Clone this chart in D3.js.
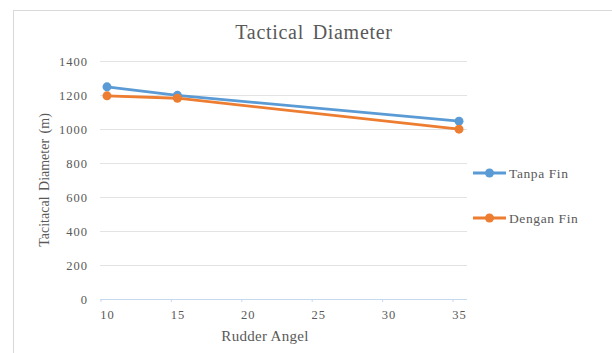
<!DOCTYPE html>
<html>
<head>
<meta charset="utf-8">
<script src="https://cdn.jsdelivr.net/npm/d3@7"></script>
<style>
  body { margin: 0; background: #fff; }
  svg { display: block; }
  text { font-family: "Liberation Serif", "Times New Roman", serif; fill: #595959; }
</style>
</head>
<body>
<svg id="chart" width="612" height="353"></svg>
<script>
// Rudder angle (deg) and tactical diameter (m) for each configuration
const rudderAngles = [10, 15, 35];
const tanpaFin = [1248, 1198, 1046];
const denganFin = [1195, 1181, 999];
const xTicks = [10, 15, 20, 25, 30, 35];
const yTicks = [0, 200, 400, 600, 800, 1000, 1200, 1400];
const seriesNames = ["Tanpa Fin", "Dengan Fin"];
const seriesColors = ["#5B9BD5", "#ED7D31"];

const series = [
  { name: seriesNames[0], color: seriesColors[0], values: tanpaFin },
  { name: seriesNames[1], color: seriesColors[1], values: denganFin }
];

const serif = "'Liberation Serif', 'Times New Roman', serif";
const svg = d3.select("#chart");

// chart area frame
svg.append("rect")
  .attr("x", 13.5).attr("y", 10.5)
  .attr("width", 640).attr("height", 360)
  .attr("fill", "#fff").attr("stroke", "#d9d9d9").attr("stroke-width", 1);

const x = d3.scaleLinear().domain([10, 35]).range([107, 459]);
const y = d3.scaleLinear().domain([0, 1400]).range([299, 61]);
const plotLeft = 100, plotRight = 467;

// horizontal gridlines
svg.append("g")
  .selectAll("line")
  .data(yTicks.filter(d => d > 0))
  .join("line")
  .attr("x1", plotLeft).attr("x2", plotRight)
  .attr("y1", d => y(d) + 0.5).attr("y2", d => y(d) + 0.5)
  .attr("stroke", "#e3e3e3").attr("stroke-width", 1);

// y axis labels
const yAxis = d3.axisLeft(y).tickValues(yTicks).tickFormat(d3.format("d"))
  .tickSize(0).tickPadding(0);
const yg = svg.append("g")
  .attr("transform", `translate(${plotLeft - 12},0)`)
  .call(yAxis)
  .attr("font-family", serif)
  .attr("font-size", 12.5);
yg.select(".domain").remove();
yg.selectAll("text").attr("letter-spacing", 1).attr("fill", "#595959");

// x axis baseline with small tick marks
svg.append("line")
  .attr("x1", plotLeft).attr("x2", plotRight)
  .attr("y1", y(0) + 0.5).attr("y2", y(0) + 0.5)
  .attr("stroke", "#c5d9f1").attr("stroke-width", 1);

const xAxis = d3.axisBottom(x).tickValues(xTicks).tickFormat(d3.format("d"))
  .tickSize(0).tickPadding(0);
const xg = svg.append("g")
  .attr("transform", `translate(0,${y(0)})`)
  .call(xAxis)
  .attr("font-family", serif)
  .attr("font-size", 12.5);
xg.select(".domain").remove();
xg.selectAll(".tick").append("line")
  .attr("x1", -6.5).attr("x2", -6.5).attr("y1", 0).attr("y2", 3)
  .attr("stroke", "#c5d9f1");
xg.selectAll("text")
  .attr("y", 11).attr("dy", "0.71em")
  .attr("letter-spacing", 1)
  .attr("fill", "#595959");

// series lines and markers
const line = d3.line()
  .x((d, i) => x(rudderAngles[i]))
  .y(d => y(d));

series.forEach(s => {
  svg.append("path")
    .datum(s.values)
    .attr("d", line)
    .attr("fill", "none")
    .attr("stroke", s.color)
    .attr("stroke-width", 2.8)
    .attr("stroke-linejoin", "round");
  svg.append("g")
    .selectAll("circle")
    .data(s.values)
    .join("circle")
    .attr("cx", (d, i) => x(rudderAngles[i]))
    .attr("cy", d => y(d))
    .attr("r", 4.5)
    .attr("fill", s.color);
});

// title
svg.append("text")
  .attr("x", 314).attr("y", 39)
  .attr("text-anchor", "middle")
  .attr("font-size", 20).attr("letter-spacing", 0.7)
  .attr("word-spacing", 3)
  .text("Tactical Diameter");

// axis titles
svg.append("text")
  .attr("transform", "translate(49,180) rotate(-90)")
  .attr("text-anchor", "middle")
  .attr("font-size", 14)
  .attr("word-spacing", 2)
  .text("Tacitacal Diameter (m)");

svg.append("text")
  .attr("x", 265).attr("y", 341)
  .attr("text-anchor", "middle")
  .attr("font-size", 15)
  .attr("letter-spacing", 0.3)
  .text("Rudder Angel");

// legend
const legend = svg.append("g");
series.forEach((s, i) => {
  const ly = 173 + i * 45;
  const g = legend.append("g").attr("transform", `translate(473,${ly})`);
  g.append("line").attr("x1", 0).attr("x2", 33).attr("y1", 0).attr("y2", 0)
    .attr("stroke", s.color).attr("stroke-width", 2.8);
  g.append("circle").attr("cx", 16.5).attr("cy", 0).attr("r", 4.5).attr("fill", s.color);
  g.append("text").attr("x", 36).attr("y", 0).attr("dy", "0.35em")
    .attr("font-size", 13.5).attr("letter-spacing", 0.6)
    .text(s.name);
});
</script>
</body>
</html>
